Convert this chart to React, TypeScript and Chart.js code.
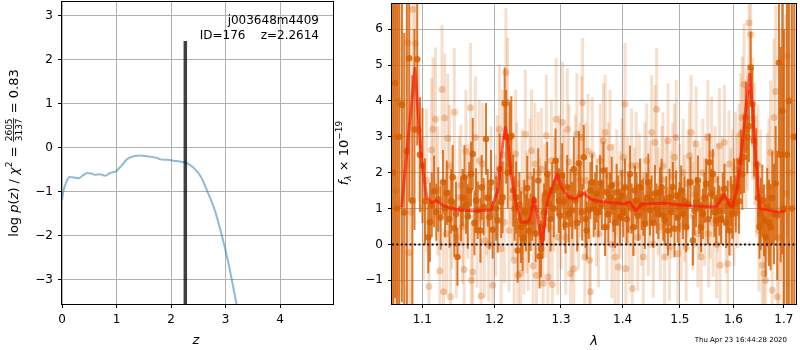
import React, { useEffect, useRef } from "react";
import { Chart, registerables } from "chart.js";
Chart.register(...registerables);

const FAMILY = "'DejaVu Sans', 'Liberation Sans', sans-serif";

// ---------- left panel: log p(z) ----------
const Z_TICKS = [0, 1, 2, 3, 4];
const LOGP_TICKS = [-3, -2, -1, 0, 1, 2, 3];
const Z_RANGE = [0, 4.97];
const LOGP_RANGE = [-3.56, 3.31];
const Z_BEST = 2.2614;
const Z_BAR = [-3.56, 2.42];

const PZ_Z = [0, 0.03, 0.08, 0.14, 0.22, 0.3, 0.39, 0.46, 0.54, 0.6, 0.7, 0.79, 0.88, 1.0, 1.1, 1.19, 1.31,
  1.44, 1.56, 1.72, 1.81, 1.93, 2.05, 2.21, 2.3, 2.43, 2.55, 2.67, 2.8, 2.92, 3.04, 3.14, 3.2, 3.3];
const PZ_LOGP = [-1.2, -0.97, -0.78, -0.67, -0.68, -0.7, -0.63, -0.58, -0.59, -0.62, -0.61, -0.64, -0.58, -0.53,
  -0.4, -0.27, -0.2, -0.18, -0.2, -0.23, -0.27, -0.28, -0.3, -0.33, -0.36, -0.48, -0.67, -1.01, -1.42, -1.95,
  -2.56, -3.17, -3.56, -4.3];

// ---------- right panel: spectrum ----------
const WAVE_TICKS = [1.1, 1.2, 1.3, 1.4, 1.5, 1.6, 1.7];
const FLUX_TICKS = [-1, 0, 1, 2, 3, 4, 5, 6];
const WAVE_RANGE = [1.0607, 1.7251];
const FLUX_RANGE = [-1.66, 6.7];

const DARK_WAVE = [
  1.0620, 1.0646, 1.0672, 1.0699, 1.0734, 1.0765, 1.0798, 1.0830, 1.0870, 1.0898,
  1.0934, 1.0970, 1.1003, 1.1036, 1.1080, 1.1102, 1.1128, 1.1158, 1.1188, 1.1214,
  1.1247, 1.1278, 1.1306, 1.1331, 1.1366, 1.1390, 1.1411, 1.1433, 1.1456, 1.1477,
  1.1527, 1.1550, 1.1574, 1.1596, 1.1620, 1.1642, 1.1666, 1.1690, 1.1713, 1.1736,
  1.1760, 1.1798, 1.1816, 1.1845, 1.1878, 1.1903, 1.1927, 1.1950, 1.1974, 1.2024,
  1.2046, 1.2075, 1.2097, 1.2118, 1.2148, 1.2170, 1.2192, 1.2221, 1.2246, 1.2273,
  1.2295, 1.2317, 1.2339, 1.2365, 1.2389, 1.2414, 1.2439, 1.2463,
  1.2483, 1.2507, 1.2533, 1.2559, 1.2583, 1.2609, 1.2649, 1.2669, 1.2692, 1.2715,
  1.2738, 1.2761, 1.2787, 1.2811, 1.2837, 1.2863, 1.2888, 1.2915, 1.2941, 1.2966,
  1.2992, 1.3019, 1.3044, 1.3071, 1.3098, 1.3123, 1.3150, 1.3177, 1.3202, 1.3229,
  1.3256, 1.3282, 1.3309, 1.3336, 1.3361, 1.3389, 1.3409, 1.3442, 1.3469, 1.3496,
  1.3522, 1.3546,
  1.3572, 1.3600, 1.3627, 1.3654, 1.3682, 1.3709, 1.3736, 1.3764, 1.3792, 1.3818,
  1.3846, 1.3874, 1.3901, 1.3929, 1.3959, 1.3986, 1.4014, 1.4042, 1.4069, 1.4098,
  1.4127, 1.4154, 1.4183, 1.4211, 1.4238, 1.4268, 1.4297, 1.4325, 1.4354, 1.4383,
  1.4411, 1.4441, 1.4470, 1.4498, 1.4528, 1.4557, 1.4586, 1.4616, 1.4645, 1.4673,
  1.4703,
  1.4726, 1.4756, 1.4786, 1.4814, 1.4845, 1.4875, 1.4903, 1.4933, 1.4963, 1.4993,
  1.5024, 1.5055, 1.5084, 1.5115, 1.5145, 1.5193, 1.5237, 1.5267, 1.5298, 1.5329,
  1.5358, 1.5389, 1.5421, 1.5451, 1.5482, 1.5514, 1.5544, 1.5575, 1.5607, 1.5637,
  1.5670, 1.5702, 1.5732, 1.5764, 1.5796, 1.5826, 1.5858, 1.5890, 1.5921, 1.5950,
  1.5979, 1.6011, 1.6044, 1.6075, 1.6108, 1.6141, 1.6172, 1.6205, 1.6238, 1.6269,
  1.6302, 1.6335, 1.6367, 1.6400, 1.6446, 1.6479, 1.6509, 1.6533, 1.6565, 1.6599,
  1.6632, 1.6664, 1.6698, 1.6732, 1.6765, 1.6799, 1.6833, 1.6866, 1.6900, 1.6935,
  1.6967, 1.7002, 1.7063, 1.7104, 1.7165, 1.7216,
];
const DARK_FLUX = [
  2.0, 4.5, 1.0, 3.0, 3.89, 0.89, 2.6, 5.19, 1.22, 3.2,
  5.16, 2.5, 2.2, 1.2, 0.2, 0.62, 1.1, 1.48, 0.9, 1.25,
  0.75, 1.73, 1.0, 1.44, 0.71, 1.2, 1.87, 0.45, 0.85, -0.35,
  0.99, 1.3, 1.87, 1.1, 0.78, 1.5, 1.96, 2.52, 0.6, 1.22,
  0.95, 0.39, 1.59, 1.05, 2.94, 1.3, 0.76, 1.73, 0.41, 1.0,
  0.67, 2.1, 1.18, 1.31, 3.93, 3.0, 2.0, 2.98, 3.03, 1.5,
  1.0, 1.31, -0.17, 1.11, 0.48, 0.16, 0.9, 0.6,
  1.57, 0.39, 0.62, 1.0, 1.22, 0.3, 1.78, -0.33, -0.12, 0.5,
  0.9, 1.41, 1.96, 1.13, 0.7, 1.5, 1.0, 2.33, 1.6, 1.22,
  0.8, 1.92, 1.2, 0.55, 1.59, 0.85, 1.3, 0.95, 2.1, 1.22,
  0.6, 2.26, 1.4, 0.9, 2.43, 0.71, 0.39, 0.96, 1.5, 1.73,
  1.0, 1.2,
  1.41, 0.9, 1.69, 1.1, 2.06, 0.48, 1.45, 0.85, 1.3, 1.64,
  1.04, 0.6, 1.45, 1.22, 0.76, 1.35, 0.9, 1.59, 0.7, 1.13,
  1.96, 1.0, 0.48, 1.5, 1.22, 0.8, 1.59, 1.1, 1.04, 0.57,
  1.3, 1.73, 0.95, 1.22, 0.6, 1.41, 1.0, 0.85, 1.45, 1.59,
  0.8,
  0.67, 1.2, 0.39, 1.31, 0.9, 1.6, 0.44, 1.36, 0.75, 1.04,
  1.5, 0.85, 1.2, 0.48, 1.13, 1.73, 0.11, 0.95, 1.18, 1.78,
  1.0, 0.48, 0.85, 1.3, 1.69, 0.7, 2.29, 1.41, 1.96, 0.9,
  0.67, 1.2, 0.94, 0.71, 1.3, 1.55, 0.6, 1.08, 0.39, 1.2,
  0.85, 1.59, 1.13, 1.6, 1.2, 2.3, 1.96, 2.43, 3.54, 2.98,
  3.3, 4.93, 3.91, 2.89, 2.24, 1.3, 0.5, 0.85, 1.22, 0.67,
  0.2, 1.04, 0.6, 0.48, 1.3, 0.85, 1.7, 0.81, 5.06, 2.5,
  3.72, 1.0, 2.5, 4.0, 1.0, 3.0,
];
const DARK_ERR = [
  6, 6, 6, 6, 5.5, 5, 4.5, 4, 3.5, 2.8,
  2.4, 1.6, 1.6, 1.2, 1.0, 1.1, 0.9, 1.0, 0.8, 0.9,
  0.9, 0.9, 0.8, 0.9, 0.8, 0.9, 0.9, 0.8, 0.9, 0.8,
  0.9, 0.8, 0.9, 0.8, 0.9, 0.8, 0.9, 1.0, 0.9, 0.9,
  0.8, 0.9, 0.9, 0.8, 1.0, 0.8, 0.9, 0.9, 0.8, 0.9,
  0.9, 1.0, 1.0, 1.0, 1.0, 1.3, 1.0, 1.0, 1.1, 1.0,
  0.9, 1.0, 0.9, 0.9, 1.0, 0.9, 0.9, 0.8,
  0.9, 0.9, 0.8, 0.9, 0.9, 0.8, 0.9, 0.9, 0.8, 0.9,
  0.8, 0.9, 0.9, 0.8, 0.9, 0.8, 0.8, 0.9, 0.8, 0.9,
  0.8, 0.9, 0.8, 0.8, 0.9, 0.8, 0.8, 0.8, 0.9, 0.8,
  0.8, 0.9, 0.8, 0.8, 0.9, 0.8, 0.8, 0.8, 0.8, 0.8,
  0.8, 0.8,
  0.8, 0.7, 0.8, 0.7, 0.8, 0.8, 0.7, 0.8, 0.7, 0.8,
  0.7, 0.7, 0.8, 0.7, 0.8, 0.7, 0.7, 0.8, 0.7, 0.8,
  0.8, 0.7, 0.8, 0.7, 0.8, 0.7, 0.8, 0.7, 0.8, 0.7,
  0.7, 0.8, 0.7, 0.7, 0.7, 0.8, 0.7, 0.7, 0.7, 0.8,
  0.7,
  0.7, 0.7, 0.7, 0.8, 0.7, 0.7, 0.8, 0.7, 0.7, 0.7,
  0.7, 0.7, 0.7, 0.7, 0.7, 0.7, 0.7, 0.7, 0.7, 0.7,
  0.7, 0.7, 0.7, 0.7, 0.7, 0.7, 0.8, 0.7, 0.7, 0.7,
  0.7, 0.7, 0.7, 0.7, 0.7, 0.7, 0.7, 0.7, 0.7, 0.7,
  0.7, 0.8, 0.8, 0.8, 0.9, 0.9, 1.0, 1.0, 1.0, 1.0,
  1.0, 1.0, 1.0, 1.0, 1.0, 0.9, 0.9, 1.0, 1.0, 1.0,
  1.1, 1.1, 1.2, 1.2, 1.3, 1.4, 1.6, 1.8, 2.5, 3.0,
  4, 5, 6, 6, 6, 6,
];

const LIGHT_WAVE = [
  1.0633, 1.0659, 1.0692, 1.0735, 1.0810, 1.0823, 1.0855, 1.0878, 1.0910, 1.0952,
  1.1016, 1.1058, 1.1089, 1.1124, 1.1145, 1.1177, 1.1207, 1.1235, 1.1265, 1.1285,
  1.1301, 1.1327, 1.1345, 1.1366, 1.1380, 1.1400, 1.1433, 1.1460,
  1.1502, 1.1524, 1.1547, 1.1570, 1.1594, 1.1621, 1.1659, 1.1671, 1.1689, 1.1727,
  1.1750, 1.1783, 1.1806, 1.1830, 1.1855, 1.1888, 1.1916, 1.1950, 1.1974, 1.2017,
  1.2039, 1.2071, 1.2096, 1.2118, 1.2143, 1.2166, 1.2190, 1.2212, 1.2234, 1.2262,
  1.2287, 1.2310, 1.2327, 1.2344, 1.2382, 1.2406, 1.2431, 1.2454,
  1.2476, 1.2495, 1.2521, 1.2547, 1.2571, 1.2597, 1.2622, 1.2649, 1.2672, 1.2698,
  1.2722, 1.2748, 1.2773, 1.2797, 1.2823, 1.2849, 1.2865, 1.2891, 1.2924, 1.2951,
  1.2974, 1.3000, 1.3025, 1.3050, 1.3076, 1.3100, 1.3126, 1.3152, 1.3176, 1.3202,
  1.3227, 1.3251, 1.3277, 1.3303, 1.3327, 1.3342, 1.3378, 1.3393, 1.3428, 1.3454,
  1.3469, 1.3499,
  1.3567, 1.3600, 1.3627, 1.3657, 1.3682, 1.3710, 1.3739, 1.3764, 1.3791, 1.3821,
  1.3846, 1.3874, 1.3904, 1.3929, 1.3958, 1.3988, 1.4013, 1.4042, 1.4055, 1.4085,
  1.4115, 1.4153, 1.4165, 1.4199, 1.4233, 1.4259, 1.4285, 1.4319, 1.4354, 1.4380,
  1.4411, 1.4441, 1.4467, 1.4498, 1.4528, 1.4558, 1.4586, 1.4616, 1.4651, 1.4681,
  1.4698, 1.4727, 1.4757, 1.4787, 1.4814, 1.4844, 1.4871, 1.4903, 1.4934, 1.4964,
  1.4997, 1.5024, 1.5060, 1.5087, 1.5115, 1.5146, 1.5175, 1.5206, 1.5237, 1.5270,
  1.5297, 1.5329, 1.5361, 1.5389, 1.5421, 1.5454, 1.5482, 1.5514, 1.5529, 1.5557,
  1.5585, 1.5613, 1.5651, 1.5679, 1.5707, 1.5732, 1.5745, 1.5783, 1.5827, 1.5859,
  1.5891, 1.5915, 1.5948,
  1.5982, 1.6011, 1.6040, 1.6075, 1.6108, 1.6141, 1.6172, 1.6205, 1.6239, 1.6270,
  1.6302, 1.6335, 1.6370, 1.6409, 1.6449, 1.6479, 1.6499, 1.6528, 1.6564, 1.6598,
  1.6632, 1.6664, 1.6698, 1.6732, 1.6765, 1.6799, 1.6834, 1.6867, 1.6900, 1.6941,
  1.6982, 1.7037, 1.7070, 1.7125, 1.7187,
];
const LIGHT_FLUX = [
  3.0, 1.5, 4.0, 3.9, 5.62, -0.23, 0.9, 6.55, 5.6, 3.2,
  1.0, 1.78, -1.17, 2.63, 3.21, 3.49, 1.5, -0.74, 4.32, -1.32,
  3.52, 0.3, 2.96, 2.19, -1.46, 1.0, 3.68, 0.2,
  1.31, 1.64, 0.5, -0.7, 2.6, 1.2, 3.81, -1.0, -0.77, 2.98,
  0.4, 2.33, -1.44, 2.24, 0.11, 1.3, 0.0, 1.59, -1.14, 0.8,
  1.9, 3.21, -0.12, 2.5, 0.62, 4.79, 3.95, 0.39, 2.2, 1.3,
  -0.44, 2.52, 1.69, -0.86, -0.81, 1.5, 0.2, 3.07,
  0.9, 0.3, 1.9, 2.61, -0.6, 2.24, -0.86, 2.0, 0.8, 2.1,
  -1.09, 1.22, 3.03, -0.91, 0.5, 2.33, -1.12, 1.4, 3.49, 0.2,
  2.0, 0.9, 3.4, 1.6, 0.2, 3.21, 2.3, -0.81, 0.56, -0.68,
  2.0, 3.07, 0.9, 1.8, 2.98, 3.95, -0.35, 1.78, 2.6, -0.44,
  -1.32, 2.5,
  0.9, 0.3, 2.33, 1.5, 2.89, 3.12, 0.5, 1.9, 2.7, 0.0,
  1.3, -0.35, 1.7, -0.63, 1.1, 2.0, 2.43, 3.91, -0.68, 1.5,
  0.4, 2.19, -1.23, 1.2, 2.2, 0.2, 1.6, 0.9, -0.35, 1.9,
  2.33, 0.62, 1.4, 3.12, 0.02, 2.84, 3.77, 1.2, 0.5, 1.8,
  2.19, -0.35, 1.5, 2.89, -0.07, 1.1, 1.9, 2.43, 2.98, -0.26,
  1.3, 0.5, 2.0, 1.0, -0.07, 1.7, 2.47, 3.12, 0.8, 1.4,
  2.8, 0.3, 1.2, -0.35, 2.0, 0.9, 1.6, 2.98, 0.3, 1.1,
  2.52, 0.6, 1.8, 0.0, 1.3, 2.75, -0.58, 1.5, 2.84, 0.7,
  -0.54, 2.24, 1.18,
  1.7, 0.9, 2.1, 1.5, 2.33, 3.07, 3.54, 4.46, 2.7, 3.2,
  6.18, 5.85, 3.5, 2.8, 1.9, 2.2, 0.39, 1.5, -0.58, -0.81,
  -1.0, 1.3, 1.6, 2.56, -1.28, 3.54, 4.26, -1.46, 0.2, 2.5,
  1.0, 1.41, 5.25, 2.0, 3.0,
];
const LIGHT_ERR = [
  6, 6, 6, 5, 3.5, 3, 3, 2.5, 2.5, 2,
  2, 2, 1.8, 2, 2, 2, 1.8, 1.8, 1.8, 1.8,
  1.8, 1.7, 1.8, 1.7, 1.7, 1.7, 1.8, 1.7,
  1.7, 1.7, 1.6, 1.6, 1.7, 1.6, 1.8, 1.6, 1.6, 1.7,
  1.6, 1.7, 1.6, 1.7, 1.6, 1.6, 1.6, 1.7, 1.6, 1.7,
  1.7, 1.8, 1.7, 1.8, 1.7, 1.8, 1.8, 1.7, 1.7, 1.7,
  1.6, 1.8, 1.7, 1.6, 1.6, 1.7, 1.6, 1.8,
  1.7, 1.6, 1.6, 1.7, 1.6, 1.7, 1.6, 1.7, 1.6, 1.7,
  1.6, 1.6, 1.7, 1.6, 1.6, 1.7, 1.6, 1.6, 1.7, 1.6,
  1.6, 1.6, 1.7, 1.6, 1.6, 1.7, 1.6, 1.6, 1.6, 1.6,
  1.6, 1.7, 1.6, 1.6, 1.7, 1.8, 1.6, 1.6, 1.6, 1.6,
  1.6, 1.6,
  1.5, 1.5, 1.6, 1.5, 1.6, 1.6, 1.5, 1.5, 1.6, 1.5,
  1.5, 1.5, 1.5, 1.5, 1.5, 1.5, 1.6, 1.7, 1.5, 1.5,
  1.5, 1.6, 1.5, 1.5, 1.5, 1.5, 1.5, 1.5, 1.5, 1.5,
  1.6, 1.5, 1.5, 1.6, 1.5, 1.6, 1.7, 1.5, 1.5, 1.5,
  1.5, 1.5, 1.5, 1.6, 1.5, 1.5, 1.5, 1.5, 1.6, 1.5,
  1.5, 1.5, 1.5, 1.5, 1.5, 1.5, 1.5, 1.6, 1.5, 1.5,
  1.6, 1.5, 1.5, 1.5, 1.5, 1.5, 1.5, 1.6, 1.5, 1.5,
  1.6, 1.5, 1.5, 1.5, 1.5, 1.6, 1.5, 1.5, 1.6, 1.5,
  1.5, 1.5, 1.5,
  1.5, 1.5, 1.6, 1.6, 1.6, 1.7, 1.7, 1.7, 1.7, 1.7,
  1.8, 1.8, 1.7, 1.7, 1.7, 1.7, 1.7, 1.7, 1.8, 1.8,
  1.8, 1.8, 1.9, 2.0, 2.0, 2.2, 2.4, 2.5, 2.8, 3.5,
  4, 5, 5, 6, 6,
];

const MODEL_WAVE = [1.073, 1.0903, 1.0992, 1.1059, 1.1125, 1.1191, 1.1281, 1.1395, 1.1509, 1.1714, 1.195,
  1.2047, 1.2119, 1.2159, 1.2193, 1.224, 1.2315, 1.2388, 1.2488, 1.2533, 1.2583, 1.2634, 1.2685, 1.271,
  1.2787, 1.2864, 1.2941, 1.3018, 1.3123, 1.3229, 1.3361, 1.3469, 1.355, 1.3791, 1.4014, 1.4127, 1.4229,
  1.4325, 1.4704, 1.5205, 1.5669, 1.5827, 1.5922, 1.5979, 1.6076, 1.6173, 1.627, 1.6316, 1.6367, 1.6434,
  1.6513, 1.6633, 1.69, 1.7036];
const MODEL_FLUX = [1.04, 4.9, 2.33, 1.31, 1.17, 1.22, 1.08, 1.0, 0.96, 0.93, 0.96,
  1.5, 2.8, 3.26, 2.89, 1.97, 1.14, 0.62, 0.62, 0.76, 1.31, 0.85, 0.25, 0.03,
  1.22, 1.59, 1.96, 1.55, 1.31, 1.27, 1.43, 1.27, 1.22, 1.17, 1.13, 1.17, 0.94,
  1.13, 1.15, 1.08, 1.04, 1.4, 1.1, 1.04, 1.59, 2.89, 4.19, 4.75, 3.81, 2.43,
  0.99, 0.97, 0.9, 0.93];

const OBJ_NAME = "j003648m4409";
const OBJ_INFO = "ID=176    z=2.2614";
const TIMESTAMP = "Thu Apr 23 16:44:28 2020";

// ---------- helpers ----------
const GRID = "#b0b0b0";
const DARK = "rgba(213,94,0,0.82)";
const LIGHT_BAR = "rgba(213,94,0,0.2)";
const LIGHT_PT = "rgba(213,94,0,0.3)";
const RED = "rgba(255,15,5,0.62)";

const fmtInt = (v: number) => (v < 0 ? "\u2212" + Math.abs(v) : String(v));

function errSegments(w: number[], f: number[], e: number[], parity: number) {
  const n = Math.min(w.length, f.length, e.length);
  const out: any[] = [];
  for (let i = 0; i < n; i++) {
    if (parity >= 0 && i % 2 !== parity) continue;
    out.push({ x: w[i], y: f[i] - e[i] }, { x: w[i], y: f[i] + e[i] }, { x: w[i], y: null });
  }
  return out;
}
function pts(w: number[], f: number[]) {
  const n = Math.min(w.length, f.length);
  const out: any[] = [];
  for (let i = 0; i < n; i++) out.push({ x: w[i], y: f[i] });
  return out;
}

function axis(type: string, range: number[], ticks: number[], fmt: (v: number) => string, fit: (s: any) => void) {
  return {
    type,
    min: range[0],
    max: range[1],
    afterBuildTicks: (s: any) => {
      s.ticks = ticks.map((v) => ({ value: v }));
    },
    afterFit: (s: any) => {
      fit(s);
      s.paddingTop = 0;
      s.paddingBottom = 0;
      s.paddingLeft = 0;
      s.paddingRight = 0;
    },
    ticks: {
      font: { family: FAMILY, size: 12 },
      color: "#000",
      padding: 5,
      autoSkip: false,
      maxRotation: 0,
      callback: (v: any) => fmt(Number(v)),
    },
    grid: { color: GRID, lineWidth: 1, tickColor: "#000", tickLength: 4, drawTicks: true },
    border: { display: false },
  };
}

type Part = { t?: string; frac?: [string, string]; font: string; dy?: number };
function drawRotated(ctx: CanvasRenderingContext2D, cx: number, cy: number, parts: Part[], base: number) {
  ctx.save();
  ctx.translate(cx, cy);
  ctx.rotate(-Math.PI / 2);
  ctx.fillStyle = "#000";
  ctx.textBaseline = "alphabetic";
  const widths = parts.map((p) => {
    ctx.font = p.font;
    if (p.frac) return Math.max(ctx.measureText(p.frac[0]).width, ctx.measureText(p.frac[1]).width) + 2;
    return ctx.measureText(p.t || "").width;
  });
  const total = widths.reduce((a, b) => a + b, 0);
  let x = -total / 2;
  parts.forEach((p, i) => {
    ctx.font = p.font;
    if (p.frac) {
      const w = widths[i];
      const bar = base - 4.5;
      ctx.textAlign = "center";
      ctx.fillText(p.frac[0], x + w / 2, bar - 1.5);
      ctx.fillText(p.frac[1], x + w / 2, bar + 8);
      ctx.fillRect(x + 0.5, bar - 0.4, w - 1, 0.8);
    } else {
      ctx.textAlign = "left";
      ctx.fillText(p.t || "", x, base + (p.dy || 0));
    }
    x += widths[i];
  });
  ctx.restore();
}

function drawFrame(chart: any) {
  const { ctx, chartArea: a } = chart;
  ctx.save();
  ctx.strokeStyle = "#000";
  ctx.lineWidth = 1;
  ctx.strokeRect(Math.round(a.left) - 0.5, Math.round(a.top) - 0.5, Math.round(a.right - a.left) + 1, Math.round(a.bottom - a.top) + 1);
  ctx.restore();
}

const F13 = `13px ${FAMILY}`;
const I13 = `italic 13px ${FAMILY}`;
const F9 = `9px ${FAMILY}`;

const leftTextPlugin = {
  id: "leftText",
  afterDatasetsDraw(chart: any) {
    drawFrame(chart);
  },
  afterDraw(chart: any) {
    const ctx = chart.ctx as CanvasRenderingContext2D;
    drawRotated(ctx, 13, 153, [
      { t: "log ", font: F13 },
      { t: "p", font: I13 },
      { t: "(", font: F13 },
      { t: "z", font: I13 },
      { t: ") / ", font: F13 },
      { t: "\u03c7", font: I13 },
      { t: "2", font: F9, dy: -6 },
      { t: " = ", font: F13 },
      { frac: ["2605", "3137"], font: F9 },
      { t: " = 0.83", font: F13 },
    ], 5);
    ctx.save();
    ctx.fillStyle = "#000";
    ctx.font = `12px ${FAMILY}`;
    ctx.textAlign = "right";
    ctx.textBaseline = "alphabetic";
    ctx.fillText(OBJ_NAME, 319, 24);
    ctx.fillText(OBJ_INFO, 319, 39);
    ctx.font = I13;
    ctx.textAlign = "center";
    ctx.fillText("z", 196, 344);
    ctx.restore();
  },
};

const RIGHT_OFF = 320;
const rightTextPlugin = {
  id: "rightText",
  afterDatasetsDraw(chart: any) {
    drawFrame(chart);
  },
  afterDraw(chart: any) {
    const ctx = chart.ctx as CanvasRenderingContext2D;
    drawRotated(ctx, 343 - RIGHT_OFF, 153, [
      { t: "f", font: I13 },
      { t: "\u03bb", font: `italic 9px ${FAMILY}`, dy: 3 },
      { t: " \u00d7 10", font: F13 },
      { t: "\u221219", font: F9, dy: -6 },
    ], 5);
    ctx.save();
    ctx.fillStyle = "#000";
    ctx.font = I13;
    ctx.textAlign = "center";
    ctx.textBaseline = "alphabetic";
    ctx.fillText("\u03bb", 594 - RIGHT_OFF, 345);
    ctx.font = `7px ${FAMILY}`;
    ctx.textAlign = "right";
    ctx.fillText(TIMESTAMP, 787 - RIGHT_OFF, 342);
    ctx.restore();
  },
};

function leftConfig(): any {
  return {
    type: "line",
    data: {
      datasets: [
        {
          data: [{ x: Z_BEST, y: Z_BAR[0] }, { x: Z_BEST, y: Z_BAR[1] }],
          borderColor: "rgba(0,0,0,0.75)",
          borderWidth: 3.5,
          pointRadius: 0,
          order: 1,
        },
        {
          data: pts(PZ_Z, PZ_LOGP),
          borderColor: "rgba(31,119,180,0.5)",
          borderWidth: 2,
          pointRadius: 0,
          cubicInterpolationMode: "monotone",
          order: 2,
        },
      ],
    },
    options: {
      responsive: false,
      animation: false,
      devicePixelRatio: 1,
      events: [],
      layout: { padding: { top: 2, right: 2, left: 0, bottom: 0 } },
      plugins: { legend: { display: false }, tooltip: { enabled: false } },
      scales: {
        x: axis("linear", Z_RANGE, Z_TICKS, fmtInt, (s: any) => { s.height = 46; }),
        y: axis("linear", LOGP_RANGE, LOGP_TICKS, fmtInt, (s: any) => { s.width = 62; }),
      },
    },
    plugins: [leftTextPlugin],
  };
}

function rightConfig(): any {
  const bar = (data: any[], color: string, w: number, order: number) => ({
    data, borderColor: color, borderWidth: w, pointRadius: 0, borderCapStyle: "butt", spanGaps: false, order,
  });
  const dots = (data: any[], color: string, r: number, order: number) => ({
    data, showLine: false, pointRadius: r, pointBorderWidth: 0, pointBackgroundColor: color, borderColor: color, order,
  });
  return {
    type: "line",
    data: {
      datasets: [
        bar(errSegments(LIGHT_WAVE, LIGHT_FLUX, LIGHT_ERR, 0), LIGHT_BAR, 3, 8),
        bar(errSegments(LIGHT_WAVE, LIGHT_FLUX, LIGHT_ERR, 1), LIGHT_BAR, 3, 7),
        dots(pts(LIGHT_WAVE, LIGHT_FLUX), LIGHT_PT, 3.5, 6),
        bar(errSegments(DARK_WAVE, DARK_FLUX, DARK_ERR, 0), DARK, 2, 5),
        bar(errSegments(DARK_WAVE, DARK_FLUX, DARK_ERR, 1), DARK, 2, 4),
        dots(pts(DARK_WAVE, DARK_FLUX), DARK, 3.3, 3),
        {
          data: pts(MODEL_WAVE, MODEL_FLUX),
          borderColor: RED,
          borderWidth: 3,
          pointRadius: 0,
          borderJoinStyle: "round",
          order: 2,
        },
        {
          data: [{ x: WAVE_RANGE[0], y: 0 }, { x: WAVE_RANGE[1], y: 0 }],
          borderColor: "#111",
          borderWidth: 2,
          borderDash: [2, 2.4],
          pointRadius: 0,
          order: 1,
        },
      ],
    },
    options: {
      responsive: false,
      animation: false,
      devicePixelRatio: 1,
      events: [],
      layout: { padding: { top: 2, right: 3, left: 0, bottom: 0 } },
      plugins: { legend: { display: false }, tooltip: { enabled: false } },
      scales: {
        x: axis("logarithmic", WAVE_RANGE, WAVE_TICKS, (v) => v.toFixed(1), (s: any) => { s.height = 46; }),
        y: axis("linear", FLUX_RANGE, FLUX_TICKS, fmtInt, (s: any) => { s.width = 72; }),
      },
    },
    plugins: [rightTextPlugin],
  };
}

export default function App() {
  const leftRef = useRef<HTMLCanvasElement>(null);
  const rightRef = useRef<HTMLCanvasElement>(null);
  useEffect(() => {
    document.body.style.margin = "0";
    const c1 = new Chart(leftRef.current as HTMLCanvasElement, leftConfig());
    const c2 = new Chart(rightRef.current as HTMLCanvasElement, rightConfig());
    return () => {
      c1.destroy();
      c2.destroy();
    };
  }, []);
  return (
    <div style={{ position: "relative", width: 800, height: 350, background: "#fff", overflow: "hidden" }}>
      <canvas ref={leftRef} width={335} height={350} style={{ position: "absolute", left: 0, top: 0 }} />
      <canvas ref={rightRef} width={480} height={350} style={{ position: "absolute", left: RIGHT_OFF, top: 0 }} />
    </div>
  );
}
